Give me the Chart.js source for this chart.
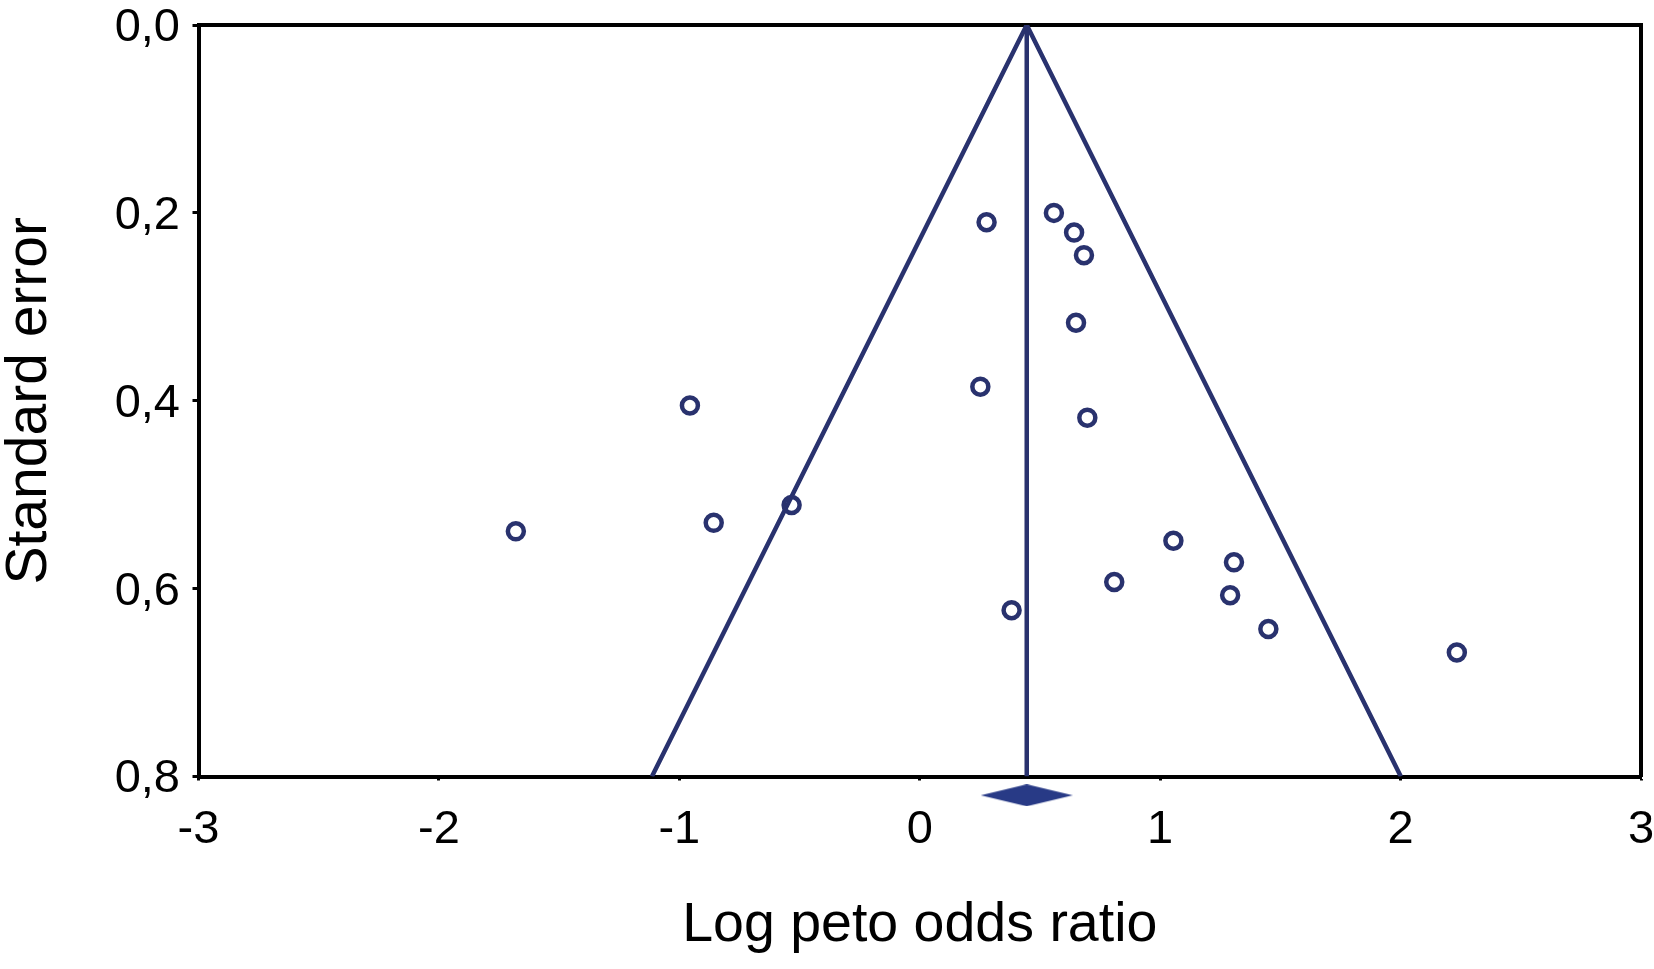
<!DOCTYPE html>
<html><head><meta charset="utf-8">
<script src="https://cdn.jsdelivr.net/npm/chart.js@4/dist/chart.umd.min.js"></script>
<style>html,body{margin:0;padding:0;background:#fff;} #wrap{width:1654px;height:969px;position:relative;}</style>
</head><body><div id="wrap"><canvas id="c" width="1654" height="969"></canvas></div>
<script>
// Study estimates (log Peto odds ratio) and their standard errors
const studyLogOR = [-1.680, -0.956, -0.857, -0.533, 0.252, 0.278, 0.382, 0.558, 0.642, 0.650, 0.683, 0.697, 0.809, 1.055, 1.291, 1.307, 1.450, 2.234];
const studySE    = [ 0.539,  0.405,  0.530,  0.511, 0.385, 0.210, 0.623, 0.200, 0.221, 0.317, 0.245, 0.418, 0.593, 0.549, 0.607, 0.572, 0.643, 0.668];
// Pooled estimate and funnel (pseudo 95% limits)
const pooledLogOR = [0.445, 0.445];
const pooledSE = [0, 0.8];
const funnelLogOR = [-1.114, 0.445, 2.001];
const funnelSE = [0.8, 0, 0.8];
const diamondLogOR = [0.445];
const diamondSE = [0.820];
// Axis ticks
const xTickValues = [-3, -2, -1, 0, 1, 2, 3];
const xTickLabels = ['-3', '-2', '-1', '0', '1', '2', '3'];
const yTickValues = [0, 0.2, 0.4, 0.6, 0.8];
const yTickLabels = ['0,0', '0,2', '0,4', '0,6', '0,8'];

const NAVY = '#29326e';
const DIAMOND = '#283a86';
const FONT = "'Liberation Sans', Arial, Helvetica, sans-serif";

// diamond marker shape (style only)
const dia = document.createElement('canvas');
dia.width = 92; dia.height = 22;
(function(){
  const g = dia.getContext('2d');
  g.fillStyle = DIAMOND;
  g.beginPath();
  g.moveTo(0, 11); g.lineTo(46, 0); g.lineTo(92, 11); g.lineTo(46, 22); g.closePath();
  g.fill();
})();

const toPts = (xs, ys) => xs.map((x, i) => ({x: x, y: ys[i]}));

new Chart(document.getElementById('c'), {
  type: 'scatter',
  data: {
    datasets: [
      {
        label: 'Studies',
        data: toPts(studyLogOR, studySE),
        showLine: false,
        pointStyle: 'circle',
        pointRadius: 8,
        pointBorderWidth: 4.5,
        pointBorderColor: NAVY,
        pointBackgroundColor: 'rgba(0,0,0,0)',
        pointHoverRadius: 8,
        clip: false
      },
      {
        label: 'Pooled diamond',
        data: toPts(diamondLogOR, diamondSE),
        showLine: false,
        pointStyle: dia,
        pointRadius: 25,
        pointHoverRadius: 25,
        clip: false
      },
      {
        label: 'Pooled',
        data: toPts(pooledLogOR, pooledSE),
        showLine: true,
        borderColor: NAVY,
        borderWidth: 4.5,
        pointRadius: 0,
        pointHoverRadius: 0,
        tension: 0
      },
      {
        label: 'Funnel',
        data: toPts(funnelLogOR, funnelSE),
        showLine: true,
        borderColor: NAVY,
        borderWidth: 4.5,
        pointRadius: 0,
        pointHoverRadius: 0,
        tension: 0
      }
    ]
  },
  options: {
    responsive: false,
    animation: false,
    events: [],
    layout: { padding: 0, autoPadding: false },
    plugins: { legend: { display: false }, tooltip: { enabled: false } },
    scales: {
      x: {
        type: 'linear', position: 'bottom', min: -3, max: 3,
        afterBuildTicks: s => { s.ticks = xTickValues.map(v => ({value: v})); },
        afterFit: s => { s.height = 192.5; s.paddingLeft = 0; s.paddingRight = 0; },
        ticks: {
          callback: (v, i) => xTickLabels[i],
          color: '#000', padding: 26, maxRotation: 0, autoSkip: false,
          font: { family: FONT, size: 47, lineHeight: 1 }
        },
        grid: { display: true, drawOnChartArea: false, drawTicks: true, tickLength: 4, tickWidth: 3, tickColor: '#000' },
        border: { display: true, width: 4, color: '#000' },
        title: {
          display: true, text: 'Log peto odds ratio', color: '#000',
          font: { family: FONT, size: 55.5, lineHeight: 1 },
          padding: { top: 0, bottom: 16 }
        }
      },
      y: {
        type: 'linear', position: 'left', min: 0, max: 0.8, reverse: true,
        afterBuildTicks: s => { s.ticks = yTickValues.map(v => ({value: v})); },
        afterFit: s => { s.width = 198.5; s.paddingTop = 0; s.paddingBottom = 0; },
        ticks: {
          callback: (v, i) => yTickLabels[i],
          color: '#000', padding: 12.5, labelOffset: 3, autoSkip: false,
          font: { family: FONT, size: 47, lineHeight: 1 }
        },
        grid: { display: true, drawOnChartArea: false, drawTicks: true, tickLength: 6, tickWidth: 3, tickColor: '#000' },
        border: { display: true, width: 4, color: '#000' },
        title: {
          display: true, text: 'Standard error', color: '#000',
          font: { family: FONT, size: 57, lineHeight: 1 },
          padding: { top: 2, bottom: 0 }
        }
      },
      xTop: {
        axis: 'x', type: 'linear', position: 'top', min: -3, max: 3,
        afterFit: s => { s.height = 25; s.paddingLeft = 0; s.paddingRight = 0; },
        ticks: { display: false },
        grid: { display: false, drawTicks: false },
        border: { display: true, width: 4, color: '#000' }
      },
      yRight: {
        axis: 'y', type: 'linear', position: 'right', min: 0, max: 0.8, reverse: true,
        afterFit: s => { s.width = 13; s.paddingTop = 0; s.paddingBottom = 0; },
        ticks: { display: false },
        grid: { display: false, drawTicks: false },
        border: { display: true, width: 4, color: '#000' }
      }
    }
  }
});
</script>
</body></html>
